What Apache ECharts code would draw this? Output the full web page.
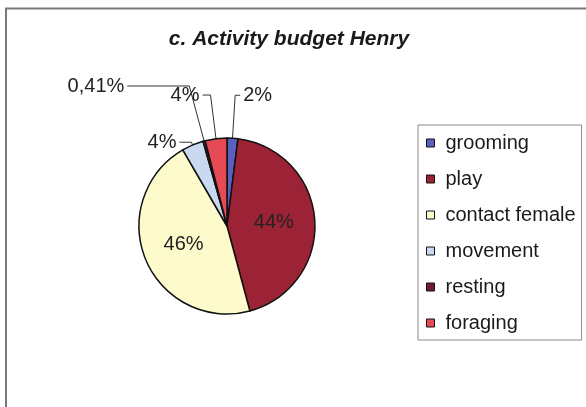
<!DOCTYPE html>
<html>
<head>
<meta charset="utf-8">
<script src="https://cdn.jsdelivr.net/npm/echarts@6/dist/echarts.min.js"></script>
<style>
html,body{margin:0;padding:0;background:#fff;}
#chart{width:586px;height:407px;}
</style>
</head>
<body>
<div id="chart"></div>
<script>
var categories = ['grooming', 'play', 'contact female', 'movement', 'resting', 'foraging'];
var values = [2, 44, 46, 4, 0.41, 4];
var colors = ['#5b5fc0', '#9b2335', '#fdfacb', '#c9daf0', '#6e1a33', '#e64a55'];
var titleText = 'c. Activity budget Henry';

// label placement per slice (style only)
var labelPos = ['outside', 'inside', 'inside', 'outside', 'outside', 'outside'];
var lineLen = [43, 0, 0, 3, 57, 44];
var lineLen2 = [5, 0, 0, 12, 62, 8];

function fmt(v) {
  var s = v < 1 ? v.toFixed(2) : String(Math.round(v));
  return s.replace('.', ',') + '%';
}

var data = categories.map(function (c, i) {
  var d = {
    name: c,
    value: values[i],
    itemStyle: { color: colors[i] },
    label: { position: labelPos[i] }
  };
  if (labelPos[i] === 'outside') {
    d.labelLine = { show: true, length: lineLen[i], length2: lineLen2[i] };
  } else {
    d.labelLine = { show: false };
  }
  return d;
});

var chart = echarts.init(document.getElementById('chart'), null, { renderer: 'canvas' });
chart.setOption({
  backgroundColor: '#ffffff',
  animation: false,
  graphic: [{
    type: 'polyline',
    shape: { points: [[6, 420], [6, 8.5], [600, 8.5]] },
    style: { stroke: '#7a7a7a', lineWidth: 2, fill: null },
    silent: true
  }],
  title: {
    text: titleText,
    left: 284,
    textAlign: 'center',
    top: 24,
    textStyle: {
      fontFamily: 'Liberation Sans, Arial, sans-serif',
      fontSize: 21,
      fontWeight: 'bold',
      fontStyle: 'italic',
      color: '#1a1a1a'
    }
  },
  legend: {
    orient: 'vertical',
    left: 418,
    top: 125,
    padding: [7, 6, 6, 8],
    itemGap: 14,
    itemWidth: 8,
    itemHeight: 8,
    icon: 'rect',
    borderColor: '#8a8a8a',
    borderWidth: 1,
    itemStyle: { borderColor: '#111', borderWidth: 1 },
    textStyle: {
      fontFamily: 'Liberation Sans, Arial, sans-serif',
      fontSize: 20,
      color: '#1a1a1a',
      lineHeight: 22,
      padding: [0, 0, 0, 6]
    },
    data: categories
  },
  series: [{
    type: 'pie',
    center: [227, 226],
    radius: 88,
    startAngle: 90,
    clockwise: true,
    avoidLabelOverlap: false,
    itemStyle: { borderColor: '#111', borderWidth: 1.5 },
    label: {
      formatter: function (p) { return fmt(p.value); },
      fontFamily: 'Liberation Sans, Arial, sans-serif',
      fontSize: 20,
      color: '#222',
      distanceToLabelLine: 3
    },
    labelLine: {
      lineStyle: { color: '#333', width: 1 }
    },
    emphasis: { disabled: true },
    data: data
  }]
});
</script>
</body>
</html>
